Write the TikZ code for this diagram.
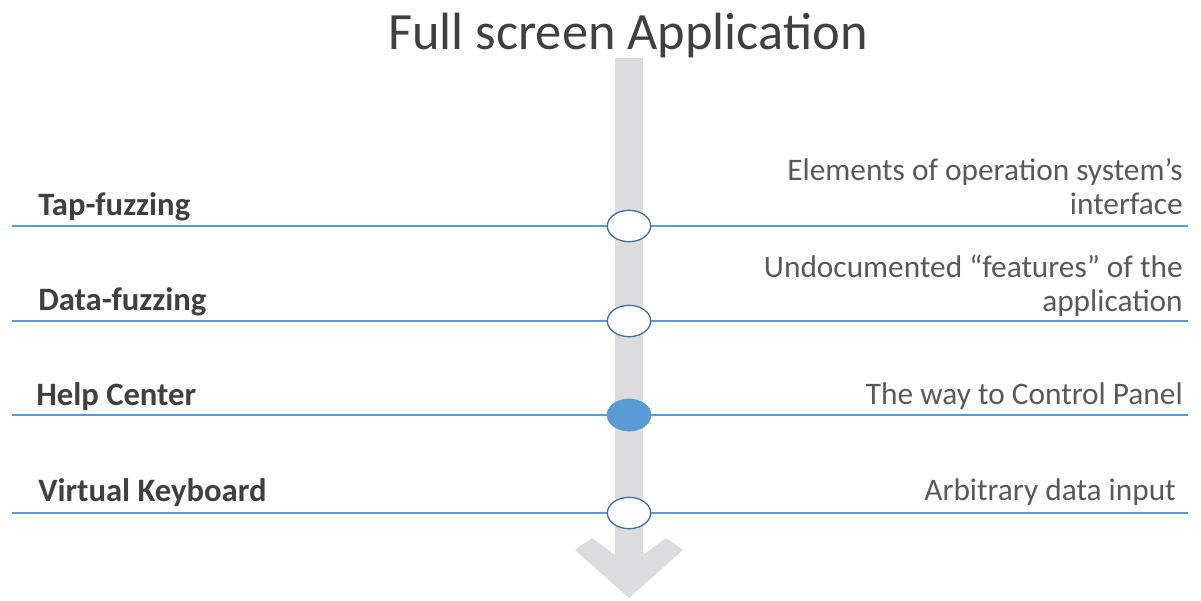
\documentclass[tikz,border=0pt]{standalone}
\usepackage{fontspec}
\setmainfont{Carlito}
\usetikzlibrary{shapes.geometric}
\definecolor{linecol}{HTML}{5B9BD5}
\definecolor{ellcol}{HTML}{41719C}
\definecolor{bargray}{HTML}{DCDCDE}
\definecolor{titlecol}{HTML}{404040}
\definecolor{lefttxt}{HTML}{404040}
\definecolor{righttxt}{HTML}{595959}
\begin{document}
\begin{tikzpicture}[x=0.75pt,y=-0.75pt,
  hline/.style={draw=linecol,line width=1.2pt},
  station/.style={ellipse,draw=ellcol,line width=1pt,fill=white,minimum width=32.5pt,minimum height=23.5pt,inner sep=0pt},
  stationon/.style={station,fill=linecol,draw=linecol},
  lefttext/.style={anchor=base west,inner sep=0pt,text=lefttxt,font=\fontsize{24.5}{28}\selectfont\bfseries},
  righttext/.style={anchor=base east,inner sep=0pt,text=righttxt,font=\fontsize{23.5}{28}\selectfont,align=right}]
\useasboundingbox (0,0) rectangle (1201,600);
% gray arrow
\fill[bargray] (615,58) -- (643,58) -- (643,555) -- (666,538) -- (683,550) -- (629,598) -- (575,550) -- (592,538) -- (615,555) -- cycle;
% title
\node[anchor=base,inner sep=0pt,text=titlecol,font=\fontsize{39.3}{48}\selectfont] (title) at (628,49) {Full screen Application};
% lines
\coordinate (l1) at (12,226); \coordinate (r1) at (1188,226);
\coordinate (l2) at (12,321); \coordinate (r2) at (1188,321);
\coordinate (l3) at (12,415); \coordinate (r3) at (1188,415);
\coordinate (l4) at (12,513); \coordinate (r4) at (1188,513);
\draw[hline] (l1) -- (r1);
\draw[hline] (l2) -- (r2);
\draw[hline] (l3) -- (r3);
\draw[hline] (l4) -- (r4);
\node[station] (e1) at (629,226) {};
\node[station] (e2) at (629,321) {};
\node[stationon] (e3) at (629,415) {};
\node[station] (e4) at (629,513) {};
% left labels
\node[lefttext] (t1) at (38,215) {Tap-fuzzing};
\node[lefttext] (t2) at (38,310) {Data-fuzzing};
\node[lefttext] (t3) at (36,405) {Help Center};
\node[lefttext] (t4) at (38,501) {Virtual Keyboard};
% right labels
\node[righttext] (r1a) at (1183,180) {Elements of operation system’s};
\node[righttext] (r1b) at (1183,214) {interface};
\node[righttext] (r2a) at (1183,277) {Undocumented “features” of the};
\node[righttext] (r2b) at (1183,311) {application};
\node[righttext] (r3t) at (1183,404) {The way to Control Panel};
\node[righttext] (r4t) at (1176,500) {Arbitrary data input};
\end{tikzpicture}
\end{document}
